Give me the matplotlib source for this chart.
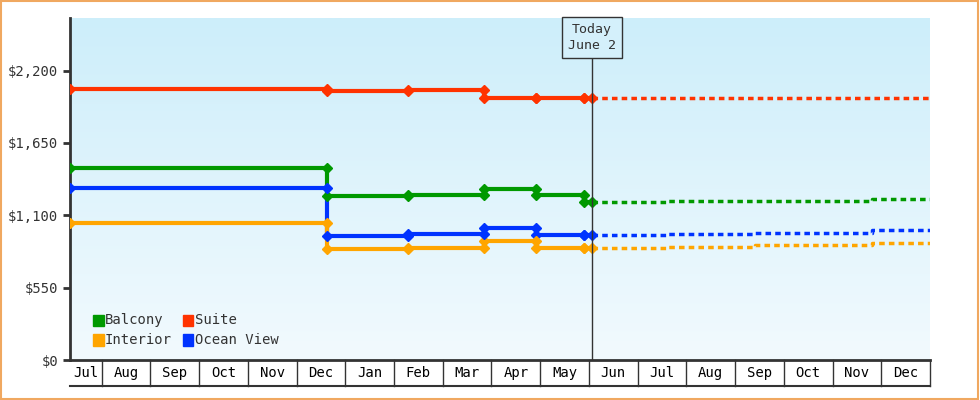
import numpy as np
import matplotlib
matplotlib.use("Agg")
import matplotlib.pyplot as plt
from matplotlib.patches import Rectangle

plt.rcParams['font.family'] = ['DejaVu Sans Mono']

# x in months since Jul 1 (Jul=0 ... Dec next year ends at 18)
MONTHS = ["Jul", "Aug", "Sep", "Oct", "Nov", "Dec", "Jan", "Feb", "Mar", "Apr", "May",
          "Jun", "Jul", "Aug", "Sep", "Oct", "Nov", "Dec"]
X_START, X_END, TODAY = 0.35, 18.0, 11.06

hist_x = [0.35, 5.62, 7.29, 8.84, 9.91, 10.9, 11.06]
series = {
    "Suite":      [2060, 2045, 2050, 1990, 1990, 1990, 1990],
    "Balcony":    [1457, 1244, 1252, 1297, 1252, 1199, 1199],
    "Ocean View": [1305, 941, 956, 1001, 948, 948, 948],
    "Interior":   [1039, 842, 850, 903, 850, 850, 850],
}
fut_x = [11.06, 12.6, 14.4, 16.8, 18.0]
future = {
    "Suite":      [1990, 1990, 1990, 1990, 1990],
    "Balcony":    [1199, 1205, 1212, 1221, 1221],
    "Ocean View": [948, 958, 968, 986, 986],
    "Interior":   [850, 860, 872, 888, 888],
}
colors = {"Balcony": "#009900", "Suite": "#ff3300", "Interior": "#ffa500", "Ocean View": "#0033ff"}

fig = plt.figure(figsize=(9.8, 4.0), dpi=100)
fig.patches.append(Rectangle((0.001, 0.002), 0.997, 0.995, transform=fig.transFigure,
                             fill=False, edgecolor="#f0a860", linewidth=1.5))
ax = fig.add_axes([70 / 980, 40 / 400, 860 / 980, 342 / 400])
ax.set_xlim(X_START, X_END)
ax.set_ylim(0, 2600)

# gradient background
grad = np.linspace(0, 1, 256).reshape(-1, 1)
cmap = matplotlib.colors.LinearSegmentedColormap.from_list("bg", ["#f2fafe", "#cdeefa"])
ax.imshow(grad, extent=[X_START, X_END, 0, 2600], origin="lower", aspect="auto", cmap=cmap, zorder=0)

for name in ["Suite", "Balcony", "Ocean View", "Interior"]:
    c = colors[name]
    ax.step(hist_x, series[name], where="post", color=c, lw=3, zorder=3)
    ax.plot(hist_x, series[name], "D", color=c, ms=5, zorder=4)
    ax.step(fut_x[0:1] + [11.25] + fut_x[1:], future[name][0:1] + future[name], where="post",
            color=c, lw=2.5, ls=(0, (1.6, 1.2)), zorder=3)
# step-entry markers (value before change at each change point)
for name in series:
    ax.plot(hist_x[1:-1], series[name][:-2], "D", color=colors[name], ms=5, zorder=4)

ax.axvline(TODAY, color="#333333", lw=1, zorder=5)
ax.text(TODAY, 2565, "Today\nJune 2", ha="center", va="top", fontsize=9.5, zorder=6,
        color="#333333", linespacing=1.3,
        bbox=dict(boxstyle="square,pad=0.45", fc="#d4f0fb", ec="#333333", lw=1))

ax.set_yticks([0, 550, 1100, 1650, 2200])
ax.set_yticklabels(["$0", "$550", "$1,100", "$1,650", "$2,200"], fontsize=10, color="#333333")
ax.set_xticks([])
for s in ["top", "right"]:
    ax.spines[s].set_visible(False)
ax.spines["left"].set_linewidth(2)
ax.spines["bottom"].set_linewidth(2)
ax.spines["left"].set_color("#333333")
ax.spines["bottom"].set_color("#333333")
ax.tick_params(axis="y", length=5, width=2, color="#333333")

# month cells under the axis
trans = ax.get_xaxis_transform()
bounds = [X_START] + list(range(1, 18)) + [X_END]
for i, m in enumerate(MONTHS):
    l, r = bounds[i], bounds[i + 1]
    ax.text((l + r) / 2, -0.038, m, transform=trans, ha="center", va="center", fontsize=10, clip_on=False)
    ax.plot([r, r], [0, -0.075], transform=trans, color="#333333", lw=1, clip_on=False)
ax.plot([X_START, X_END], [-0.075, -0.075], transform=trans, color="#333333", lw=1.5, clip_on=False)

# legend
leg = [("Balcony", 0.82, 303), ("Suite", 2.66, 303),
       ("Interior", 0.82, 152), ("Ocean View", 2.66, 152)]
for name, lx, ly in leg:
    ax.add_patch(Rectangle((lx, ly - 42), 0.22, 84, color=colors[name], zorder=5))
    ax.text(lx + 0.25, ly, name, va="center", fontsize=10, color="#333333", zorder=5)

fig.savefig("out.png", dpi=100)
